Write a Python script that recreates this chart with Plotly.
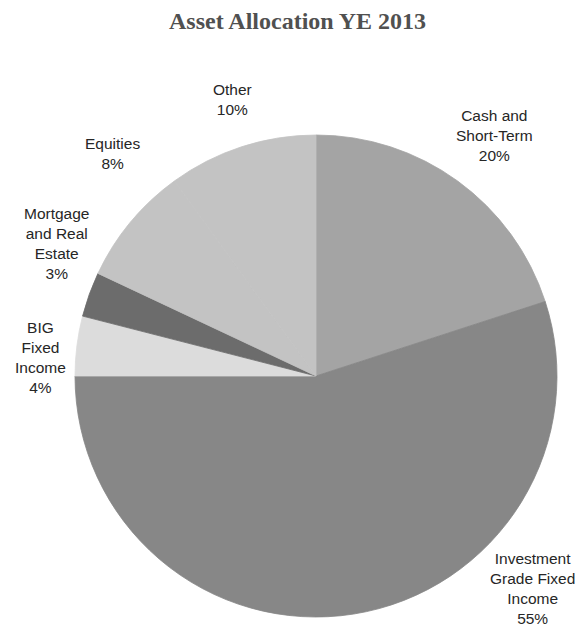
import plotly.graph_objects as go

labels = ["Cash and Short-Term", "Investment Grade Fixed Income", "BIG Fixed Income",
          "Mortgage and Real Estate", "Equities", "Other"]
values = [20, 55, 4, 3, 8, 10]
label_text = ["Cash and<br>Short-Term<br>20%", "Investment<br>Grade Fixed<br>Income<br>55%",
              "BIG<br>Fixed<br>Income<br>4%", "Mortgage<br>and Real<br>Estate<br>3%",
              "Equities<br>8%", "Other<br>10%"]
colors = ["#a4a4a4", "#878787", "#dcdcdc", "#6c6c6c", "#c3c3c3", "#c3c3c3"]

W, H = 580, 627
# label block centres in pixels
label_pos = [(494, 135), (532, 588), (40, 357), (56, 244), (112, 153), (232, 99)]

fig = go.Figure(go.Pie(
    labels=labels, values=values, sort=False, direction="clockwise", rotation=0,
    marker=dict(colors=colors, line=dict(width=0.8, color=colors)),
    textinfo="none", hoverinfo="label+percent", showlegend=False,
    domain=dict(x=[75 / W, 557 / W], y=[1 - 617 / H, 1 - 135 / H]),
))

annotations = []
for txt, (px, py) in zip(label_text, label_pos):
    annotations.append(dict(text=txt, x=px / W, y=1 - py / H, xref="paper", yref="paper",
                            xanchor="center", yanchor="middle", showarrow=False,
                            font=dict(family="Liberation Sans, Arial", size=15.5, color="#262626")))
annotations.append(dict(text="<b>Asset Allocation YE 2013</b>", x=297 / W, y=1 - 21 / H,
                        xref="paper", yref="paper", xanchor="center", yanchor="middle",
                        showarrow=False,
                        font=dict(family="Liberation Serif, Times New Roman", size=24, color="#505050")))

fig.update_layout(width=W, height=H, margin=dict(l=0, r=0, t=0, b=0),
                  paper_bgcolor="white", plot_bgcolor="white", annotations=annotations)
fig.write_html("out.html")
